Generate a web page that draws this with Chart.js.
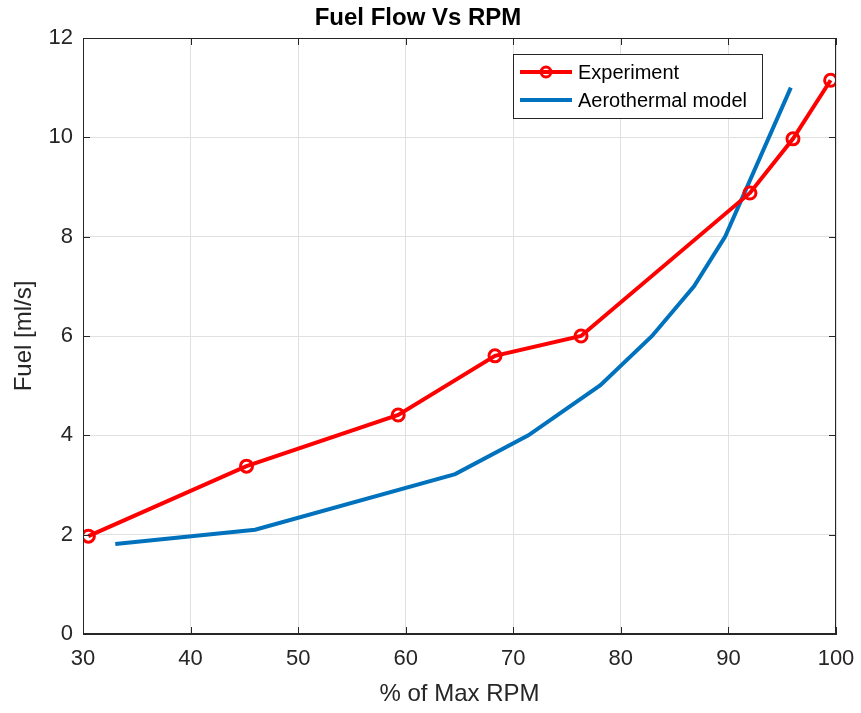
<!DOCTYPE html>
<html>
<head>
<meta charset="utf-8">
<script src="https://cdn.jsdelivr.net/npm/chart.js@4"></script>
<style>
  html, body { margin: 0; padding: 0; background: #fff; }
  #wrap { width: 861px; height: 713px; position: relative; }
</style>
</head>
<body>
<div id="wrap"><canvas id="fuelChart"></canvas></div>
<script>
// Experiment (measured)
const expRpm  = [30.5, 45.2, 59.3, 68.3, 76.3, 92.0, 96.0, 99.5];
const expFuel = [1.97, 3.38, 4.41, 5.60, 6.00, 8.88, 9.97, 11.15];

// Aerothermal model
const modelRpm  = [33.0, 46.0, 64.6, 71.4, 78.1, 82.9, 86.8, 89.7, 95.8];
const modelFuel = [1.81, 2.10, 3.22, 4.00, 5.01, 6.00, 7.00, 8.00, 11.00];

const xTicks = [30, 40, 50, 60, 70, 80, 90, 100];
const yTicks = [0, 2, 4, 6, 8, 10, 12];

const axisColor = '#262626';
const gridColor = '#e0e0e0';
const fontFamily = '"Liberation Sans", Arial, Helvetica, sans-serif';

// MATLAB style box: top/right border and inward ticks on all sides
const boxPlugin = {
    id: 'box',
    afterDraw(chart) {
        const { ctx, chartArea: a, scales } = chart;
        const len = 7;
        ctx.save();
        ctx.strokeStyle = axisColor;
        ctx.lineWidth = 1;
        ctx.strokeRect(a.left + 0.5, a.top + 0.5, a.right - a.left - 1, a.bottom - a.top - 1);
        ctx.beginPath();
        xTicks.forEach(v => {
            const x = Math.round(scales.x.getPixelForValue(v)) + 0.5;
            ctx.moveTo(x, a.bottom); ctx.lineTo(x, a.bottom - len);
            ctx.moveTo(x, a.top); ctx.lineTo(x, a.top + len);
        });
        yTicks.forEach(v => {
            const y = Math.round(scales.y.getPixelForValue(v)) + 0.5;
            ctx.moveTo(a.left, y); ctx.lineTo(a.left + len, y);
            ctx.moveTo(a.right, y); ctx.lineTo(a.right - len, y);
        });
        ctx.stroke();
        ctx.restore();
    }
};

// legend box in the upper right of the plot
const legendPlugin = {
    id: 'boxLegend',
    afterDraw(chart) {
        const { ctx } = chart;
        const x0 = 513, y0 = 54, w = 249, h = 64;
        ctx.save();
        ctx.fillStyle = '#fff';
        ctx.fillRect(x0, y0, w, h);
        ctx.strokeStyle = axisColor;
        ctx.lineWidth = 1;
        ctx.strokeRect(x0 + 0.5, y0 + 0.5, w, h);
        ctx.font = '20px ' + fontFamily;
        ctx.textBaseline = 'middle';
        chart.data.datasets.forEach((ds, i) => {
            const y = y0 + 18 + i * 28;
            ctx.strokeStyle = ds.borderColor;
            ctx.lineWidth = ds.borderWidth;
            ctx.beginPath();
            ctx.moveTo(x0 + 7, y); ctx.lineTo(x0 + 59, y);
            ctx.stroke();
            if (ds.pointRadius > 0) {
                ctx.lineWidth = ds.pointBorderWidth;
                ctx.beginPath();
                ctx.arc(x0 + 33, y, 5, 0, Math.PI * 2);
                ctx.stroke();
            }
            ctx.fillStyle = '#000';
            ctx.fillText(ds.label, x0 + 65, y + 1);
        });
        ctx.restore();
    }
};

const ctx = document.getElementById('fuelChart').getContext('2d');
new Chart(ctx, {
    type: 'scatter',
    data: {
        datasets: [{
            label: 'Experiment',
            data: expRpm.map((r, i) => ({ x: r, y: expFuel[i] })),
            showLine: true,
            borderColor: '#ff0000',
            borderWidth: 4,
            pointRadius: 6,
            pointBorderWidth: 3,
            pointBackgroundColor: 'rgba(0,0,0,0)',
            pointBorderColor: '#ff0000',
            order: 0
        }, {
            label: 'Aerothermal model',
            data: modelRpm.map((r, i) => ({ x: r, y: modelFuel[i] })),
            showLine: true,
            borderColor: '#0072bd',
            borderWidth: 4,
            pointRadius: 0,
            order: 1
        }]
    },
    options: {
        responsive: true,
        maintainAspectRatio: false,
        animation: false,
        layout: { padding: { left: 0, right: 25, top: 0, bottom: 0 } },
        plugins: {
            legend: { display: false },
            tooltip: { enabled: false },
            title: {
                display: true,
                text: 'Fuel Flow Vs RPM',
                color: '#000',
                font: { family: fontFamily, size: 24, weight: 'bold' },
                padding: { top: 3.6, bottom: 5.6 }
            }
        },
        scales: {
            x: {
                type: 'linear',
                min: 30, max: 100,
                afterBuildTicks(scale) { scale.ticks = xTicks.map(v => ({ value: v })); },
                afterFit(scale) {
                    scale.height = 79;
                    scale.paddingLeft = 0;
                    scale.paddingRight = 0;
                },
                grid: { color: gridColor, drawTicks: false },
                border: { color: axisColor },
                ticks: { color: axisColor, padding: 12, font: { family: fontFamily, size: 22 } },
                title: {
                    display: true, text: '% of Max RPM', color: axisColor,
                    font: { family: fontFamily, size: 24 }, padding: { top: 0, bottom: 4 }
                }
            },
            y: {
                min: 0, max: 12,
                afterBuildTicks(scale) { scale.ticks = yTicks.map(v => ({ value: v })); },
                afterFit(scale) {
                    scale.width = 83;
                    scale.paddingTop = 0;
                    scale.paddingBottom = 0;
                },
                grid: { color: gridColor, drawTicks: false },
                border: { color: axisColor },
                ticks: { color: axisColor, padding: 10, font: { family: fontFamily, size: 22 } },
                title: {
                    display: true, text: 'Fuel [ml/s]', color: axisColor,
                    font: { family: fontFamily, size: 24 }, padding: { top: 10, bottom: 0 }
                }
            }
        }
    },
    plugins: [boxPlugin, legendPlugin]
});
</script>
</body>
</html>
